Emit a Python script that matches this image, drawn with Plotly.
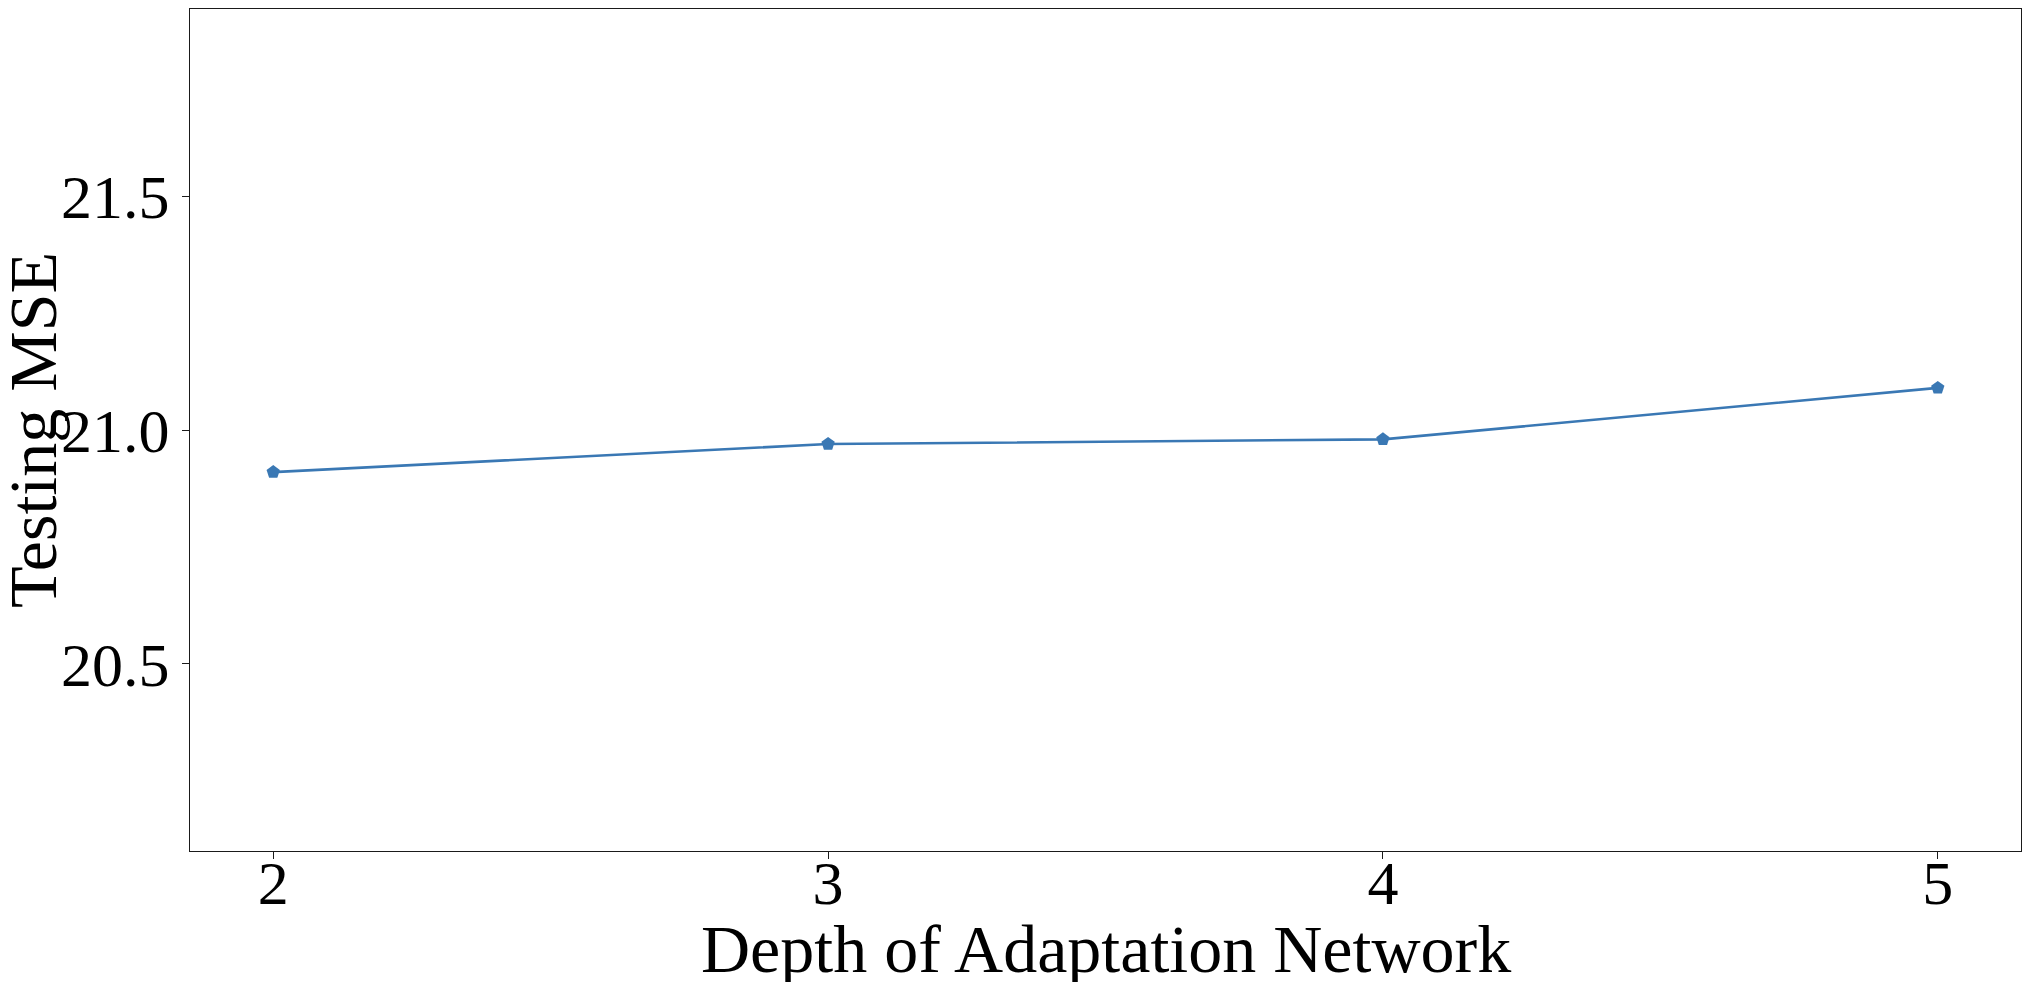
import plotly.graph_objects as go

depth = [2, 3, 4, 5]
test_mse = [20.91, 20.97, 20.98, 21.09]
x_ticks = [2, 3, 4, 5]
y_ticks = [20.5, 21.0, 21.5]
y_tick_text = ["20.5", "21.0", "21.5"]

font_family = "Liberation Serif"
line_color = "#3a78b4"

fig = go.Figure()
fig.add_trace(go.Scatter(
    x=depth, y=test_mse,
    mode="lines+markers",
    line=dict(color=line_color, width=2.6),
    marker=dict(symbol="pentagon", size=14, color=line_color),
    showlegend=False,
))

axis_common = dict(
    showline=True, linecolor="#1a1a1a", linewidth=1.3, mirror=True,
    ticks="outside", ticklen=7, tickwidth=1.3, tickcolor="#1a1a1a",
    showgrid=False, zeroline=False, automargin=False,
    tickfont=dict(family=font_family, size=62, color="black"),
)

fig.update_xaxes(range=[1.85, 5.15], tickvals=x_ticks,
                 ticklabelstandoff=-30, **axis_common)
fig.update_yaxes(range=[20.1, 21.9], tickvals=y_ticks, ticktext=y_tick_text,
                 **axis_common)

# axis titles placed as annotations so they sit where the reference has them
fig.add_annotation(
    text="Depth of Adaptation Network", xref="paper", yref="paper",
    x=0.5, y=0, yshift=-98, xanchor="center", yanchor="middle",
    showarrow=False, font=dict(family=font_family, size=68, color="black"),
)
fig.add_annotation(
    text="Testing MSE", xref="paper", yref="paper",
    x=0, y=0.5, xshift=-157, xanchor="center", yanchor="middle",
    textangle=-90, showarrow=False,
    font=dict(family=font_family, size=68, color="black"),
)

fig.update_layout(
    width=2014, height=974,
    margin=dict(l=182, r=1, t=1, b=131),
    plot_bgcolor="white", paper_bgcolor="white",
)

fig.write_html("out.html")
